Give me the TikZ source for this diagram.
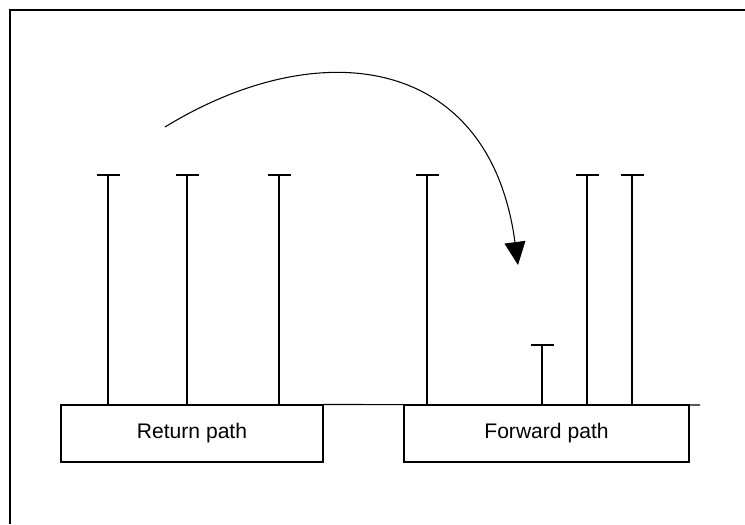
\documentclass[tikz,border=0pt]{standalone}
\usepackage{fontspec}
\setmainfont{Liberation Sans}
\usepackage{tikz}
\usetikzlibrary{positioning,calc,arrows.meta}

\begin{document}
\begin{tikzpicture}[line width=0.6pt,
    pathbox/.style={draw, rectangle, minimum width=#1, minimum height=1.14cm,
        inner sep=0pt, font=\fontsize{12}{14}\selectfont}]
    \useasboundingbox (0,0) rectangle (14.9,10.48);

    % Frame (only left and top edges show)
    \draw[line width=1.2pt] (0.2,0) -- (0.2,10.28) -- (14.9,10.28);

    % Paths
    \node[pathbox=5.24cm] (ret) at (3.84,1.81) {Return path};
    \node[pathbox=5.70cm] (fwd) at (10.93,1.81) {Forward path};
    \coordinate (lineend) at (14.0,2.38);
    \draw (ret.north east) -- (lineend);

    % Posts
    \foreach \x in {2.16,3.74,5.58,8.54,11.74,12.64}
        \draw (\x,2.38) -- (\x,6.98) ++(-0.23,0) -- ++(0.46,0);
    \draw (10.84,2.38) -- (10.84,3.58) ++(-0.23,0) -- ++(0.46,0);

    % Hop across
    \coordinate (from) at (3.3,7.94);
    \coordinate (to) at (10.36,5.18);
    \draw[-{Triangle[length=0.46cm,width=0.42cm]}] (from)
        .. controls (6.4,9.84) and (9.8,9.38) .. (to);
\end{tikzpicture}
\end{document}
